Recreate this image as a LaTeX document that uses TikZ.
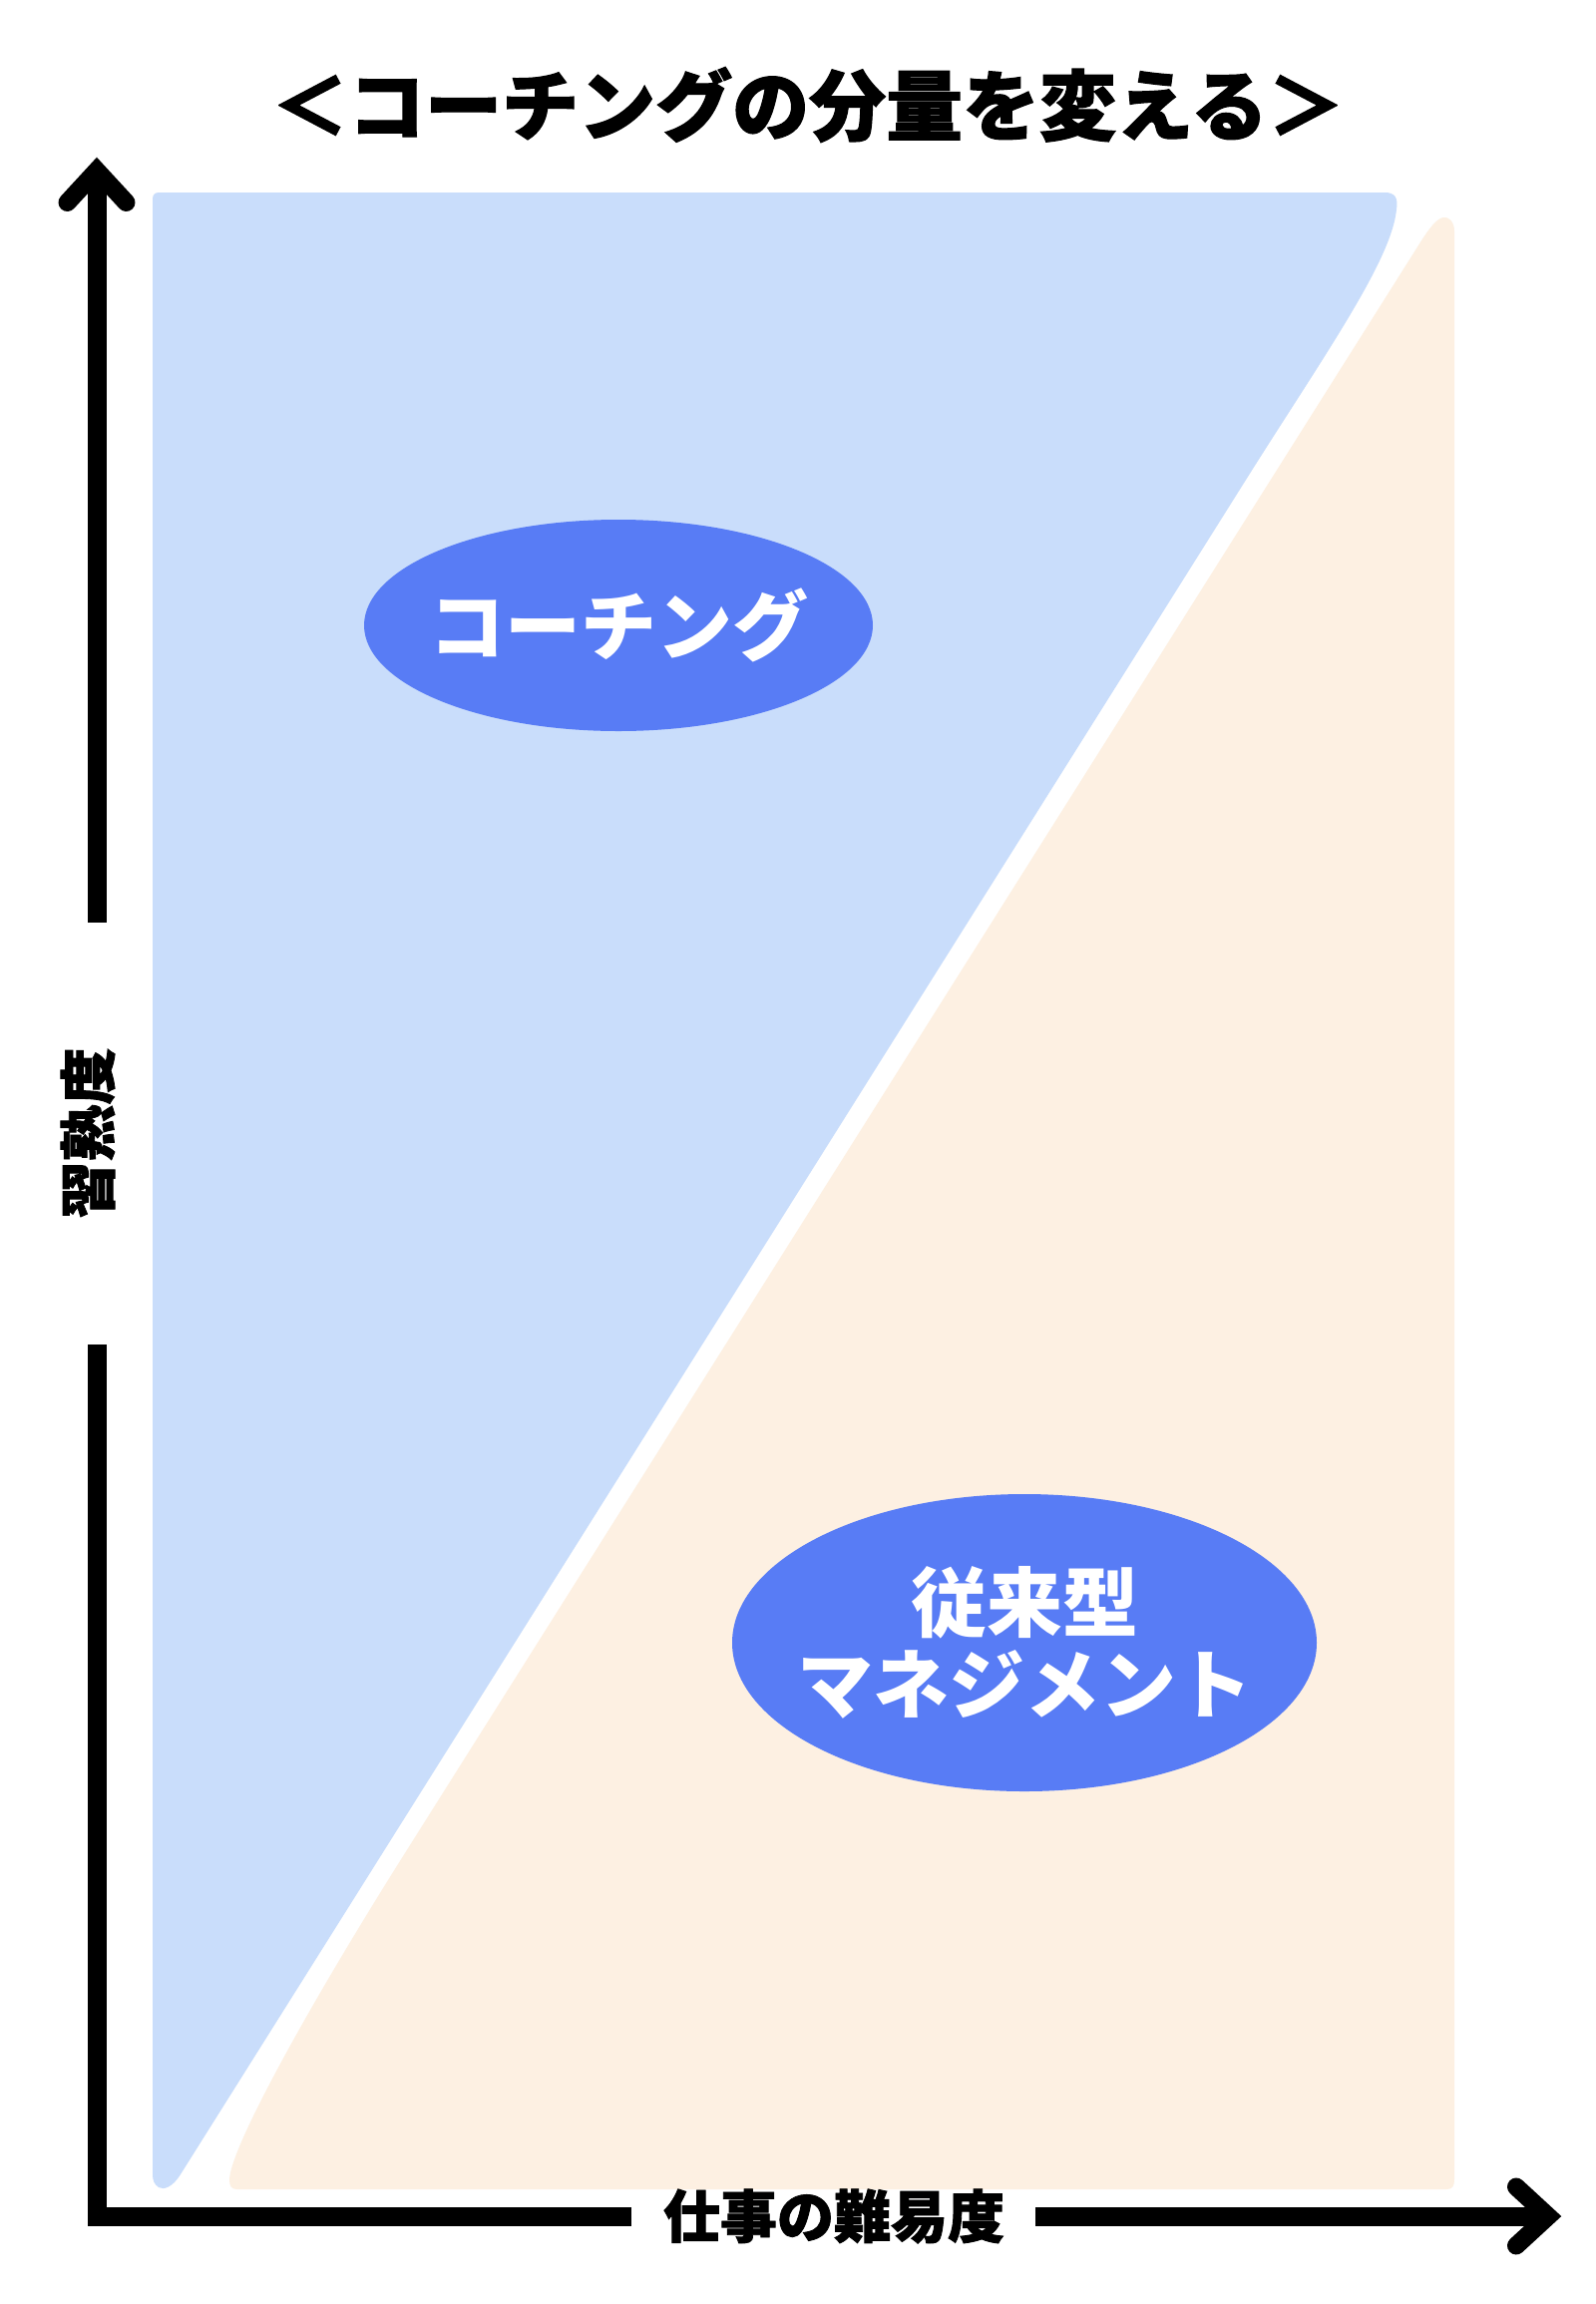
\documentclass[tikz,border=0pt]{standalone}
\usepackage{fontspec}
\newfontfamily\jp{Noto Sans CJK JP}
\newfontfamily\jpheavy{Noto Sans CJK JP}[BoldFeatures={FakeBold=1.5}]
\usetikzlibrary{shapes.geometric}
\definecolor{bluebg}{HTML}{C9DDFB}
\definecolor{orangebg}{HTML}{FDF0E2}
\definecolor{ellblue}{HTML}{587CF5}
\tikzset{
  axisline/.style={line width=19pt, line cap=butt, line join=miter, black},
  headline/.style={line width=18pt, line cap=round, line join=miter, black},
  blob/.style={ellipse, fill=ellblue, inner sep=0pt, outer sep=0pt},
  blobtext/.style={text=white, align=center, inner sep=0pt,
    font=\jp\bfseries\fontsize{76}{82}\selectfont},
  axlabel/.style={font=\jpheavy\bfseries\fontsize{57}{60}\selectfont, inner sep=0pt},
  titlestyle/.style={font=\jpheavy\bfseries\fontsize{77}{80}\selectfont, inner sep=0pt}
}
\begin{document}
\begin{tikzpicture}[x=1pt,y=-1pt]
\useasboundingbox (0,0) rectangle (1600,2310);
\fill[white] (0,0) rectangle (1600,2310);

% blue region
\fill[bluebg] (153,200) .. controls (153,195) and (155,193) .. (160,193)
  -- (1388,193) .. controls (1398,193) and (1402,198) .. (1400,210)
  .. controls (1395,260) and (1332,350) .. (1256,470)
  -- (181,2180) .. controls (173,2193) and (164,2196) .. (159,2193)
  .. controls (155,2190) and (153,2187) .. (153,2180) -- cycle;

% orange region
\fill[orangebg] (1458,2185) -- (1458,232)
  .. controls (1458,222) and (1452,217) .. (1447,218)
  .. controls (1440,219) and (1432,230) .. (1422,246)
  -- (411,1850) .. controls (316,2000) and (232,2150) .. (230,2185)
  .. controls (230,2192) and (232,2195) .. (238,2195)
  -- (1450,2195) .. controls (1456,2195) and (1458,2192) .. (1458,2185) -- cycle;

% title
\node[titlestyle] (title) at (810,105) {＜コーチングの分量を変える＞};

% ellipses
\node[blob, minimum width=510pt, minimum height=212pt] (coach) at (620,627) {};
\node[blobtext] (coachtext) at (coach.center) {コーチング};
\node[blob, minimum width=586pt, minimum height=298pt] (mgmt) at (1027,1647) {};
\node[blobtext] (mgmttext) at (mgmt.center) {従来型\\マネジメント};

% axes
\coordinate (ytip) at (97,171);
\coordinate (ygapA) at (97,925);
\coordinate (ygapB) at (97,1348);
\coordinate (org) at (97,2222);
\coordinate (xgapA) at (633,2222);
\coordinate (xgapB) at (1038,2222);
\coordinate (xtip) at (1552,2222);
\coordinate (yheadL) at (67.5,203);
\coordinate (yheadR) at (126.5,203);
\coordinate (xheadT) at (1520,2192.5);
\coordinate (xheadB) at (1520,2251.5);

\draw[axisline] (ygapA) -- (ytip);
\draw[axisline] (ygapB) -- (org) -- (xgapA);
\draw[axisline] (xgapB) -- (xtip);
\draw[headline] (yheadL) -- (ytip) -- (yheadR);
\draw[headline] (xheadT) -- (xtip) -- (xheadB);

\node[axlabel, rotate=90] (ylab) at (88,1136) {習熟度};
\node[axlabel] (xlab) at (836,2222) {仕事の難易度};
\end{tikzpicture}
\end{document}
